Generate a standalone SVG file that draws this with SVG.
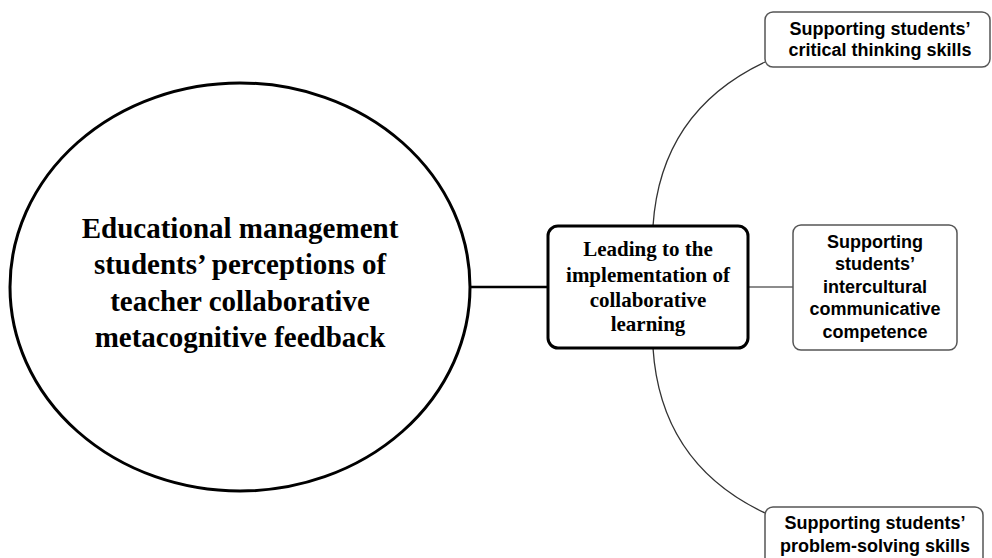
<svg xmlns="http://www.w3.org/2000/svg" width="992" height="558" viewBox="0 0 992 558">
<style>
.serif{font-family:"Liberation Serif","Times New Roman",serif;font-weight:bold;fill:#000;text-anchor:middle}
.sans{font-family:"Liberation Sans",Arial,sans-serif;font-weight:bold;fill:#000;text-anchor:middle;font-size:18px}
.box{fill:#fff;stroke:#555;stroke-width:1.5}
.conn{fill:none;stroke:#333;stroke-width:1.3}
</style>
<rect width="992" height="558" fill="#fff"/>
<g id="connectors">
<line x1="470" y1="287" x2="548" y2="287" stroke="#000" stroke-width="2.5"/>
<line x1="748" y1="287" x2="793" y2="287" stroke="#666" stroke-width="1.5"/>
<path class="conn" d="M653,226 C658,150 695,95 765,62"/>
<path class="conn" d="M653,348 C658,425 695,480 765,513"/>
</g>
<g id="main">
<ellipse cx="240" cy="287" rx="230" ry="204" fill="#fff" stroke="#000" stroke-width="3"/>
<text class="serif" font-size="29" x="240" y="238">Educational management</text>
<text class="serif" font-size="29" x="240" y="274">students’ perceptions of</text>
<text class="serif" font-size="29" x="240" y="311">teacher collaborative</text>
<text class="serif" font-size="29" x="240" y="347">metacognitive feedback</text>
</g>
<g id="center">
<rect x="548" y="226" width="200" height="122" rx="10" fill="#fff" stroke="#000" stroke-width="3"/>
<text class="serif" font-size="21" x="648" y="256">Leading to the</text>
<text class="serif" font-size="21" x="648" y="282">implementation of</text>
<text class="serif" font-size="21" x="648" y="307">collaborative</text>
<text class="serif" font-size="21" x="648" y="331">learning</text>
</g>
<g id="critical">
<rect class="box" x="765" y="12" width="225" height="55" rx="8"/>
<text class="sans" x="880" y="35">Supporting students’</text>
<text class="sans" x="880" y="56">critical thinking skills</text>
</g>
<g id="intercultural">
<rect class="box" x="793" y="225" width="164" height="125" rx="8"/>
<text class="sans" x="875" y="248">Supporting</text>
<text class="sans" x="875" y="270">students’</text>
<text class="sans" x="875" y="293">intercultural</text>
<text class="sans" x="875" y="315">communicative</text>
<text class="sans" x="875" y="338">competence</text>
</g>
<g id="problem">
<rect class="box" x="765" y="507" width="218" height="70" rx="8"/>
<text class="sans" x="875" y="529">Supporting students’</text>
<text class="sans" x="875" y="552">problem-solving skills</text>
</g>
</svg>
